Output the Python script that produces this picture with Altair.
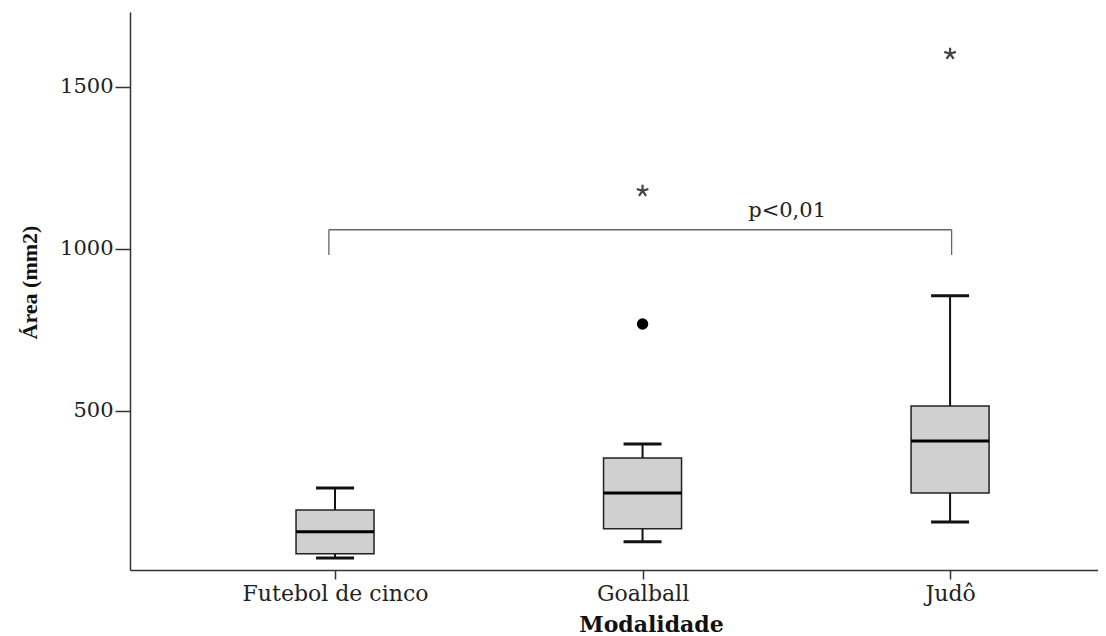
import altair as alt
import pandas as pd

# --- data -------------------------------------------------------------------
categories = ["Futebol de cinco", "Goalball", "Judô"]
positions = [0, 1, 2]
whisker_low = [46, 96, 157]
q1 = [59, 136, 247]
median = [127, 247, 407]
q3 = [194, 355, 515]
whisker_high = [262, 398, 855]

outlier_pos = [1]
outlier_val = [768]
extreme_pos = [1, 2]
extreme_val = [1179, 1602]

bracket_from = [-0.02]
bracket_to = [2.005]
bracket_top = [1059]
bracket_bottom = [981]
annot_text = ["p<0,01"]
annot_x = [1.47]
annot_y = [1099]
# -----------------------------------------------------------------------------

boxes = pd.DataFrame({
    "pos": positions, "cat": categories, "lo": whisker_low, "q1": q1,
    "med": median, "q3": q3, "hi": whisker_high,
})
outliers = pd.DataFrame({"pos": outlier_pos, "val": outlier_val})
extremes = pd.DataFrame({"pos": extreme_pos, "val": extreme_val})
bracket_h = pd.DataFrame({"x": bracket_from, "x2": bracket_to, "y": bracket_top})
bracket_v = pd.DataFrame({
    "x": bracket_from + bracket_to,
    "y": bracket_bottom * 2, "y2": bracket_top * 2,
})
annot = pd.DataFrame({"x": annot_x, "y": annot_y, "t": annot_text})

label_expr = "[" + ",".join("'" + c + "'" for c in categories) + "][datum.value]"

xscale = alt.Scale(domain=[-0.6667, 2.481], nice=False, zero=False)
yscale = alt.Scale(domain=[9, 1731], nice=False, zero=False)

xax = alt.Axis(
    values=positions, labelExpr=label_expr, title="Modalidade", grid=False,
    tickSize=9, tickColor="#333", tickWidth=1.5, domainColor="#333", domainWidth=1.5,
    labelFont="DejaVu Serif", labelFontSize=22, labelColor="#222", labelPadding=4,
    labelLimit=0, labelOverlap=False,
    titleFont="DejaVu Serif", titleFontSize=22, titleFontWeight="bold", titleColor="#111",
    titleX=521, titleY=61, titleBaseline="alphabetic", titleAlign="center",
)
yax = alt.Axis(
    values=[500, 1000, 1500], format="d", title="Área (mm2)", grid=False,
    tickSize=15, tickColor="#333", tickWidth=1.5, domainColor="#333", domainWidth=1.5,
    labelFont="DejaVu Serif", labelFontSize=21, labelColor="#222", labelPadding=2,
    titleFont="Liberation Serif", titleFontSize=22, titleFontWeight="bold", titleColor="#111",
    titleX=-101, titleY=270, titleAngle=-90, titleAlign="center", titleBaseline="middle",
)

base = alt.Chart(boxes)

whisk = base.mark_rule(color="#111", strokeWidth=2).encode(
    x=alt.X("pos:Q", scale=xscale, axis=xax),
    y=alt.Y("lo:Q", scale=yscale, axis=yax),
    y2="hi:Q",
)
box = base.mark_rect(fill="#d0d0d0", stroke="#222", strokeWidth=1.5,
                     xOffset=-39, x2Offset=39).encode(
    x="pos:Q", x2="pos:Q", y="q1:Q", y2="q3:Q",
)
med = base.mark_rule(color="#000", strokeWidth=3, xOffset=-39, x2Offset=39).encode(
    x="pos:Q", x2="pos:Q", y="med:Q",
)
cap_lo = base.mark_rule(color="#111", strokeWidth=3, xOffset=-19, x2Offset=19).encode(
    x="pos:Q", x2="pos:Q", y="lo:Q",
)
cap_hi = base.mark_rule(color="#111", strokeWidth=3, xOffset=-19, x2Offset=19).encode(
    x="pos:Q", x2="pos:Q", y="hi:Q",
)
out = alt.Chart(outliers).mark_point(filled=True, shape="circle", size=130,
                                     color="#000", opacity=1).encode(
    x="pos:Q", y="val:Q",
)
star_path = ("M0,0L0,-1M0,0L0.951,-0.309M0,0L0.588,0.809"
             "M0,0L-0.588,0.809M0,0L-0.951,-0.309")
ext = alt.Chart(extremes).mark_point(shape=star_path, size=150, filled=False,
                                     stroke="#444", strokeWidth=2.2, opacity=1).encode(
    x="pos:Q", y="val:Q",
)
bh = alt.Chart(bracket_h).mark_rule(color="#666", strokeWidth=1.3).encode(
    x="x:Q", x2="x2:Q", y="y:Q",
)
bv = alt.Chart(bracket_v).mark_rule(color="#666", strokeWidth=1.3).encode(
    x="x:Q", y="y:Q", y2="y2:Q",
)
txt = alt.Chart(annot).mark_text(font="DejaVu Serif", fontSize=21, color="#222",
                                 align="center", baseline="alphabetic").encode(
    x="x:Q", y="y:Q", text="t:N",
)

chart = alt.layer(bh, bv, whisk, box, med, cap_lo, cap_hi, out, ext, txt).properties(
    width=968, height=558,
    autosize=alt.AutoSizeParams(type="none"),
    padding={"left": 122, "top": 4, "right": 0, "bottom": 66},
    background="white",
).configure_view(stroke=None)

chart.save("out.html", embed_options={"renderer": "svg", "actions": False})
